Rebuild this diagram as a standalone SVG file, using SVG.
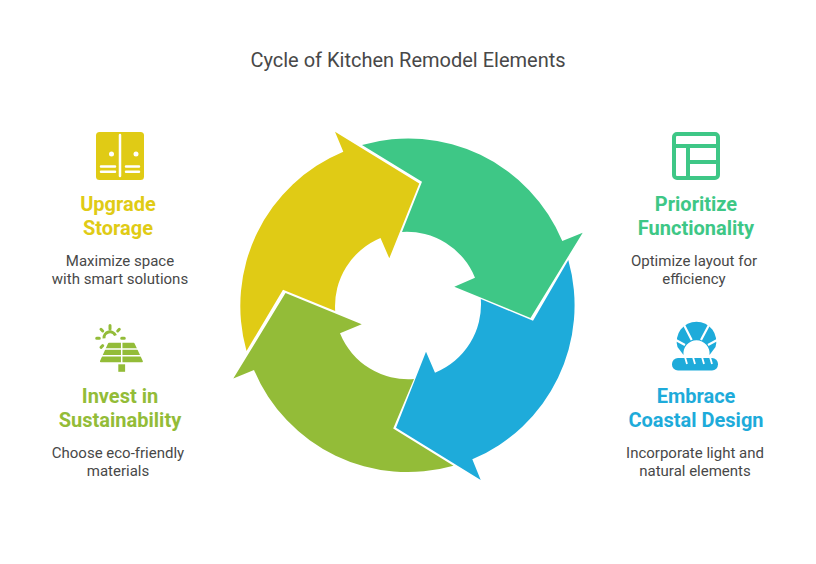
<svg xmlns="http://www.w3.org/2000/svg" width="816" height="564" viewBox="0 0 816 564">
<style>
text{font-family:Roboto,"Liberation Sans",sans-serif;text-anchor:middle}
.t{font-size:20px;fill:#484848}
.h{font-size:20px;font-weight:700}
.b{font-size:15px;fill:#484848}
.y{fill:#E0CB15}.g{fill:#3EC786}.c{fill:#1EABDA}.o{fill:#93BC38}
</style>
<rect width="816" height="564" fill="#fff"/>
<text class="t" x="408" y="67">Cycle of Kitchen Remodel Elements</text>
<g id="connectors">
<path class="y" d="M246.500 351A167 167 0 0 1 343.300 151.700L335 131.700L419.300 183.400L389.300 258.300L380.500 238A73.500 73.500 0 0 0 335.200 311L283 289.700Z"/>
<path class="g" d="M362 145A167 167 0 0 1 562.300 241L582.700 232.700L530.500 318L454.300 286.700L475 277.700A73.500 73.500 0 0 0 402 232L422 181.800Z"/>
<path class="c" d="M568.300 260A167 167 0 0 1 472.300 459.300L480.700 480L396 427.800L426 351.700L435 372.700A73.500 73.500 0 0 0 480.800 299L533 320.800Z"/>
<path class="o" d="M453.500 465.700A167 167 0 0 1 254 370L233.300 378.600L285.500 293L361.700 324.300L340 333.300A73.500 73.500 0 0 0 414 379L393.200 428.600Z"/>
</g>
<g id="node-storage">
<rect class="y" x="96" y="132" width="48" height="48" rx="3.500"/>
<path d="M120 135V176M101 166.500H115M101 171.700H115M126 166.500H139M126 171.700H139" stroke="#fff" stroke-width="2.500" fill="none" stroke-linecap="round"/>
<circle cx="111.500" cy="154" r="2.500" fill="#fff"/><circle cx="136" cy="154" r="2.500" fill="#fff"/>
<text class="h" x="118" y="211" fill="#E0CB15">Upgrade</text>
<text class="h" x="118" y="235" fill="#E0CB15">Storage</text>
<text class="b" x="120" y="266">Maximize space</text>
<text class="b" x="120" y="284">with smart solutions</text>
</g>
<g id="node-functionality">
<rect x="674" y="134" width="44" height="44" rx="3" fill="none" stroke="#3EC786" stroke-width="4"/>
<path d="M674 146H718M688 146V178M688 162H718" fill="none" stroke="#3EC786" stroke-width="4"/>
<text class="h" x="696" y="211" fill="#3EC786">Prioritize</text>
<text class="h" x="696" y="235" fill="#3EC786">Functionality</text>
<text class="b" x="694" y="266">Optimize layout for</text>
<text class="b" x="694" y="284">efficiency</text>
</g>
<g id="node-sustainability">
<path d="M104 338.300A6 6 0 0 1 115.500 335.500" fill="none" stroke="#93BC38" stroke-width="3"/>
<path d="M110 325.500V329M101 329.300L102.700 331M96.700 338.300H99.300M101 347.300L102.700 345.700M119.300 329.300L117.700 331M121.700 338.300H124.300" fill="none" stroke="#93BC38" stroke-width="3" stroke-linecap="round"/>
<path class="o" d="M109 342.700H133.600Q134.300 342.700 134.600 343.400L142.800 361Q143.200 362.300 142 362.300H101Q99.600 362.300 100 361L108 343.400Q108.300 342.700 109 342.700Z"/>
<path d="M103 349H140M100 355.800H143M121.700 342V363" stroke="#fff" stroke-width="1.500" fill="none"/>
<rect class="o" x="118.300" y="364.300" width="6.800" height="7.500"/>
<text class="h" x="120" y="403" fill="#93BC38">Invest in</text>
<text class="h" x="120" y="427" fill="#93BC38">Sustainability</text>
<text class="b" x="118" y="458">Choose eco-friendly</text>
<text class="b" x="118" y="476">materials</text>
</g>
<g id="node-coastal">
<path class="c" d="M683.500 355L677.500 347A19.800 19.800 0 1 1 715.500 347L709.500 355A13.100 13.100 0 1 0 683.500 355Z"/>
<path d="M691.700 340L683.500 324M701 340L709.500 324M685 345L674 339M708 345L719 339" stroke="#fff" stroke-width="2.200" fill="none"/>
<rect class="c" x="672" y="358" width="46" height="12.500" rx="6"/>
<path d="M685 357L687 364M693 357L695 364M702 357L704 364M710 357L712 364" stroke="#fff" stroke-width="1.800" fill="none"/>
<text class="h" x="696" y="403" fill="#1EABDA">Embrace</text>
<text class="h" x="696" y="427" fill="#1EABDA">Coastal Design</text>
<text class="b" x="695" y="458">Incorporate light and</text>
<text class="b" x="695" y="476">natural elements</text>
</g>
</svg>
